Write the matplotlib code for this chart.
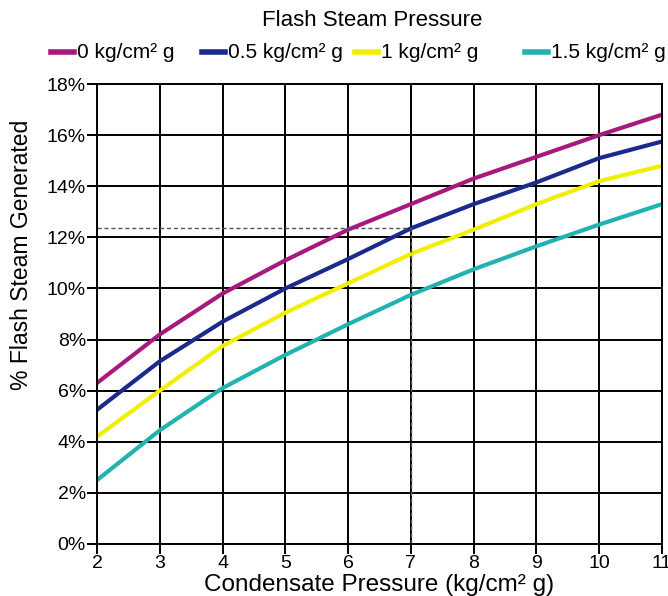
import matplotlib
matplotlib.use("Agg")
import matplotlib.pyplot as plt
from matplotlib.lines import Line2D

condensate_pressure = [2, 3, 4, 5, 6, 7, 8, 9, 10, 11]
series_labels = ["0 kg/cm² g", "0.5 kg/cm² g", "1 kg/cm² g", "1.5 kg/cm² g"]
flash_0 = [6.3, 8.2, 9.8, 11.1, 12.3, 13.3, 14.3, 15.15, 16.0, 16.8]
flash_05 = [5.25, 7.15, 8.7, 10.0, 11.15, 12.35, 13.3, 14.15, 15.1, 15.75]
flash_1 = [4.2, 6.0, 7.75, 9.05, 10.2, 11.35, 12.3, 13.3, 14.2, 14.8]
flash_15 = [2.5, 4.45, 6.1, 7.4, 8.6, 9.75, 10.75, 11.65, 12.5, 13.3]
y_ticks = [0, 2, 4, 6, 8, 10, 12, 14, 16, 18]
ref_x = 7
ref_y = 12.35

colors = ["#a8197f", "#1c2a8c", "#f2ee00", "#22b2b0"]
series = [flash_0, flash_05, flash_1, flash_15]

plt.rcParams['font.family'] = ['Liberation Sans', 'DejaVu Sans']

W, H = 668, 596
fig = plt.figure(figsize=(W / 100, H / 100), dpi=100)
ax = fig.add_axes([97 / W, 1 - 544 / H, (662 - 97) / W, (544 - 84) / H])

for vals, lab, c in zip(series, series_labels, colors):
    ax.plot(condensate_pressure, vals, color=c, lw=3.0, label=lab)

ax.plot([2, ref_x], [ref_y, ref_y], color='#555555', lw=1, ls=(0, (3, 2)))
ax.plot([ref_x, ref_x], [0, ref_y], color='#555555', lw=1, ls=(0, (3, 2)))

ax.set_xlim(2, 11)
ax.set_ylim(0, 18)
ax.set_xticks(condensate_pressure)
ax.set_yticks(y_ticks)
ax.set_yticklabels([f"{v}%" for v in y_ticks])
ax.grid(True, color='black', lw=1.4)
ax.set_axisbelow(True)
for s in ax.spines.values():
    s.set_color('black')
    s.set_linewidth(1.4)
ax.tick_params(direction='out', length=7, width=1.4, labelsize=14, colors='black', pad=1)
ax.set_xlabel("Condensate Pressure (kg/cm² g)", fontsize=17.5, labelpad=1)
ax.set_ylabel("% Flash Steam Generated", fontsize=16.5)
ax.yaxis.set_label_coords(-0.113, 0.628)

# legend (title + 4 entries in one row)
fig.text(372 / W, 1 - 20 / H, "Flash Steam Pressure", ha='center', va='center', fontsize=16)
handle_x = [51, 202, 355, 525]
ly = 1 - 52 / H
for hx, lab, c in zip(handle_x, series_labels, colors):
    fig.add_artist(Line2D([hx / W, (hx + 23) / W], [ly, ly], color=c, lw=4, transform=fig.transFigure))
    fig.text((hx + 26) / W, ly, lab, ha='left', va='center', fontsize=15)

fig.savefig("out.png", dpi=100)
